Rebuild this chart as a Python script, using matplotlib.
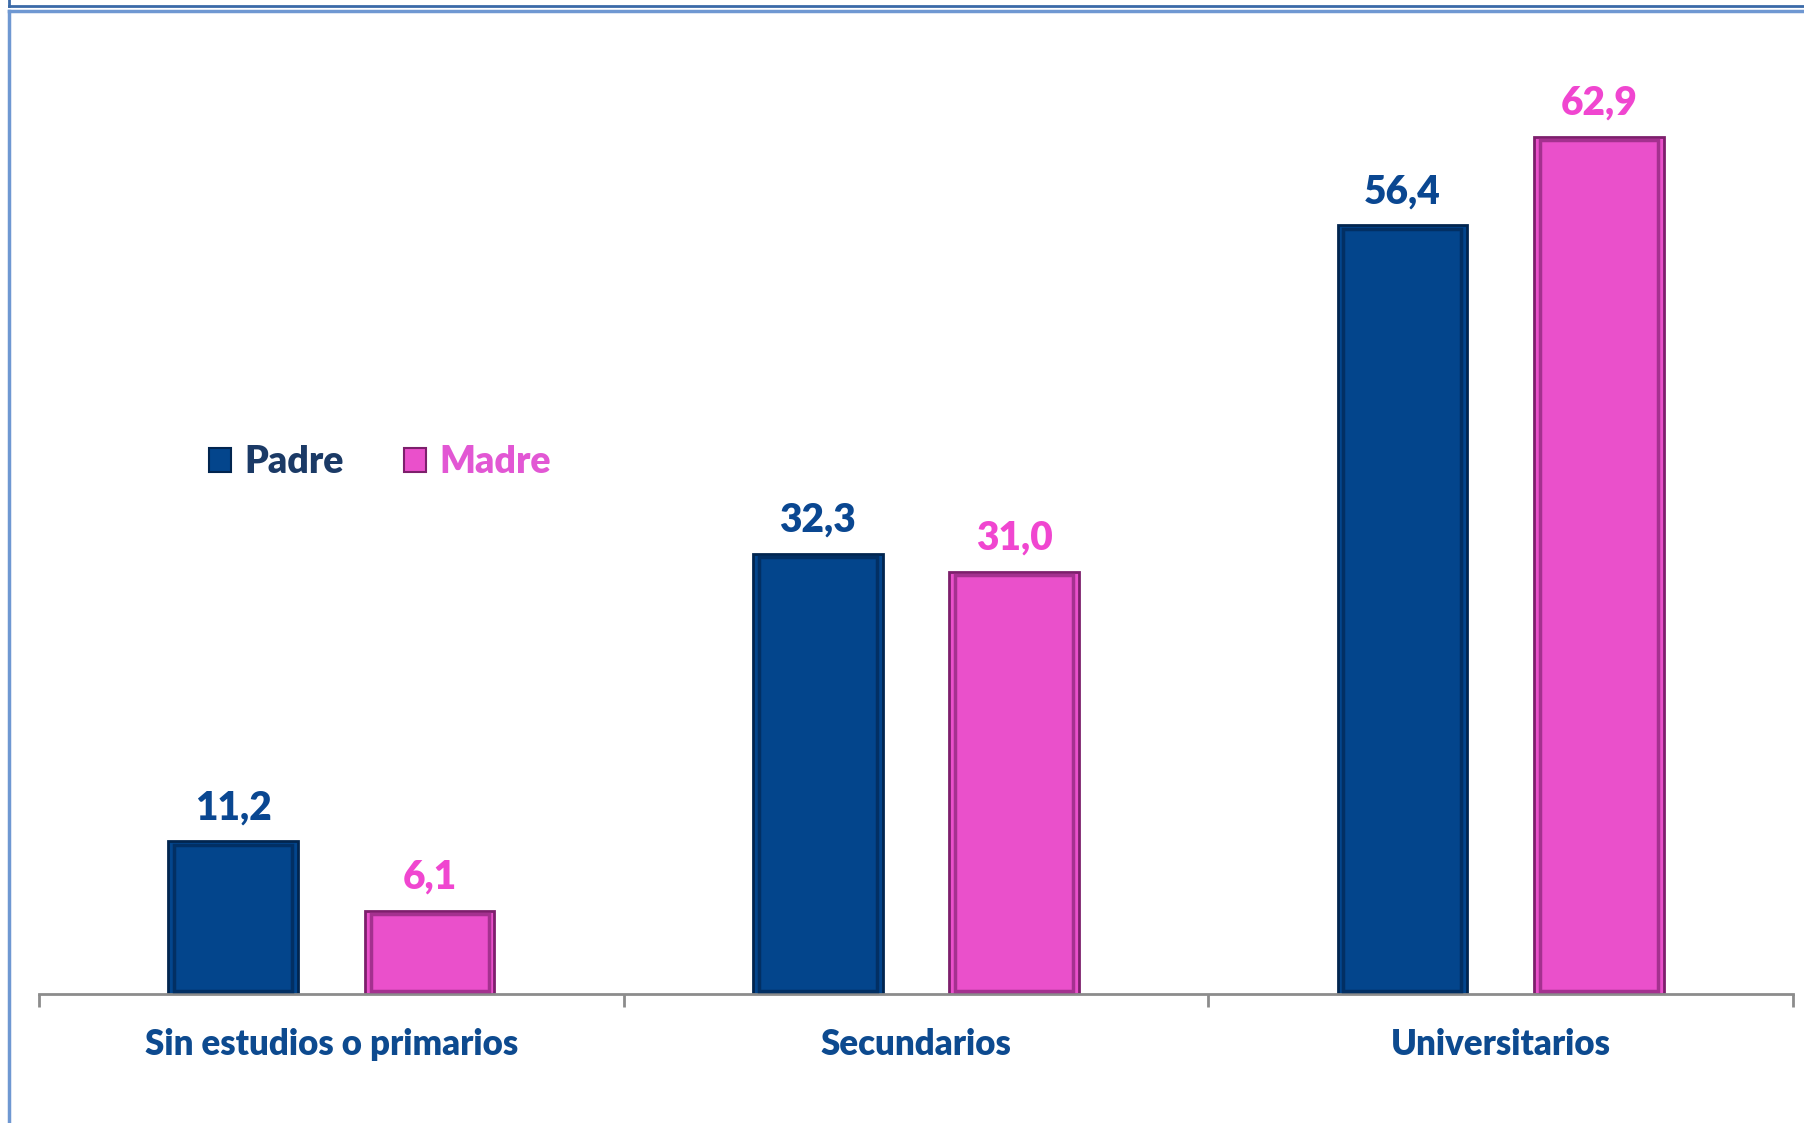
import matplotlib
matplotlib.use("Agg")
import matplotlib.pyplot as plt
from matplotlib.patches import Patch
from matplotlib.lines import Line2D
import numpy as np

# datos
categorias = ["Sin estudios o primarios", "Secundarios", "Universitarios"]
series = ["Padre", "Madre"]
padre = [11.2, 32.3, 56.4]
madre = [6.1, 31.0, 62.9]

col_fill = {"Padre": "#03458c", "Madre": "#ea50cb"}
col_edge = {"Padre": "#01254f", "Madre": "#7d1f6c"}
col_inner = {"Padre": "#022f63", "Madre": "#a4318f"}
col_val = {"Padre": "#0a4791", "Madre": "#f046d0"}
col_leg = {"Padre": "#1b3a66", "Madre": "#e257d4"}
col_cat = "#0d4a8f"

plt.rcParams['font.family'] = ['Lato', 'DejaVu Sans']
peso = "heavy"

W, H = 1804, 1123
fig = plt.figure(figsize=(W / 100, H / 100), dpi=100)
ax = fig.add_axes([39 / W, (H - 994) / H, 1754 / W, 954 / H])

x = np.arange(len(categorias))
bw = 0.222
off = 0.168
valores = {"Padre": padre, "Madre": madre}
for i, s in enumerate(series):
    pos = x + (off if i else -off)
    vals = valores[s]
    ax.bar(pos, vals, width=bw, color=col_fill[s], edgecolor=col_edge[s], linewidth=2, zorder=2)
    # bevel inside the bar
    ax.bar(pos, np.array(vals) - 0.5, bottom=0.25, width=bw - 0.02, fill=False,
           edgecolor=col_inner[s], linewidth=2.5, zorder=3)
    for xp, v in zip(pos, vals):
        ax.annotate(f"{v:.1f}".replace(".", ","), xy=(xp, v), xytext=(0, 16),
                    textcoords="offset points", ha="center", va="baseline",
                    fontsize=28, fontweight=peso, color=col_val[s])

ax.set_xlim(-0.5, len(categorias) - 0.5)
ax.set_ylim(0, 70)
ax.set_yticks([])
for sp in ["top", "right", "left"]:
    ax.spines[sp].set_visible(False)
ax.spines["bottom"].set_color("#8c8c8c")
ax.spines["bottom"].set_linewidth(2)
ax.set_xticks(np.arange(len(categorias) + 1) - 0.5)
ax.set_xticklabels([])
ax.tick_params(axis="x", direction="out", length=9, width=2, color="#8c8c8c")
for xi, c in zip(x, categorias):
    ax.annotate(c, xy=(xi, 0), xytext=(0, -44), textcoords="offset points",
                ha="center", va="baseline", fontsize=25, fontweight=peso, color=col_cat)

handles = [Patch(facecolor=col_fill[s], edgecolor=col_edge[s], linewidth=1.5) for s in series]
leg = ax.legend(handles, series, loc="center left", bbox_to_anchor=(190 / W, 1 - 462 / H),
                bbox_transform=fig.transFigure, ncol=2, frameon=False, borderpad=0,
                handlelength=0.6, handleheight=0.6, handletextpad=0.35,
                columnspacing=1.6, prop={"size": 27, "weight": peso})
for t, s in zip(leg.get_texts(), series):
    t.set_color(col_leg[s])

# marcos
fig.add_artist(Line2D([9 / W, 1], [1 - 6 / H, 1 - 6 / H], transform=fig.transFigure,
                      color="#3b6aa8", linewidth=2))
fig.add_artist(Line2D([9 / W, 9 / W], [1, 1 - 6 / H], transform=fig.transFigure,
                      color="#3b6aa8", linewidth=2))
fig.add_artist(Line2D([9 / W, 1], [1 - 11 / H, 1 - 11 / H], transform=fig.transFigure,
                      color="#6f98d2", linewidth=2.5))
fig.add_artist(Line2D([9 / W, 9 / W], [1 - 11 / H, 0], transform=fig.transFigure,
                      color="#6f98d2", linewidth=2.5))

fig.savefig("out.png", dpi=100)
